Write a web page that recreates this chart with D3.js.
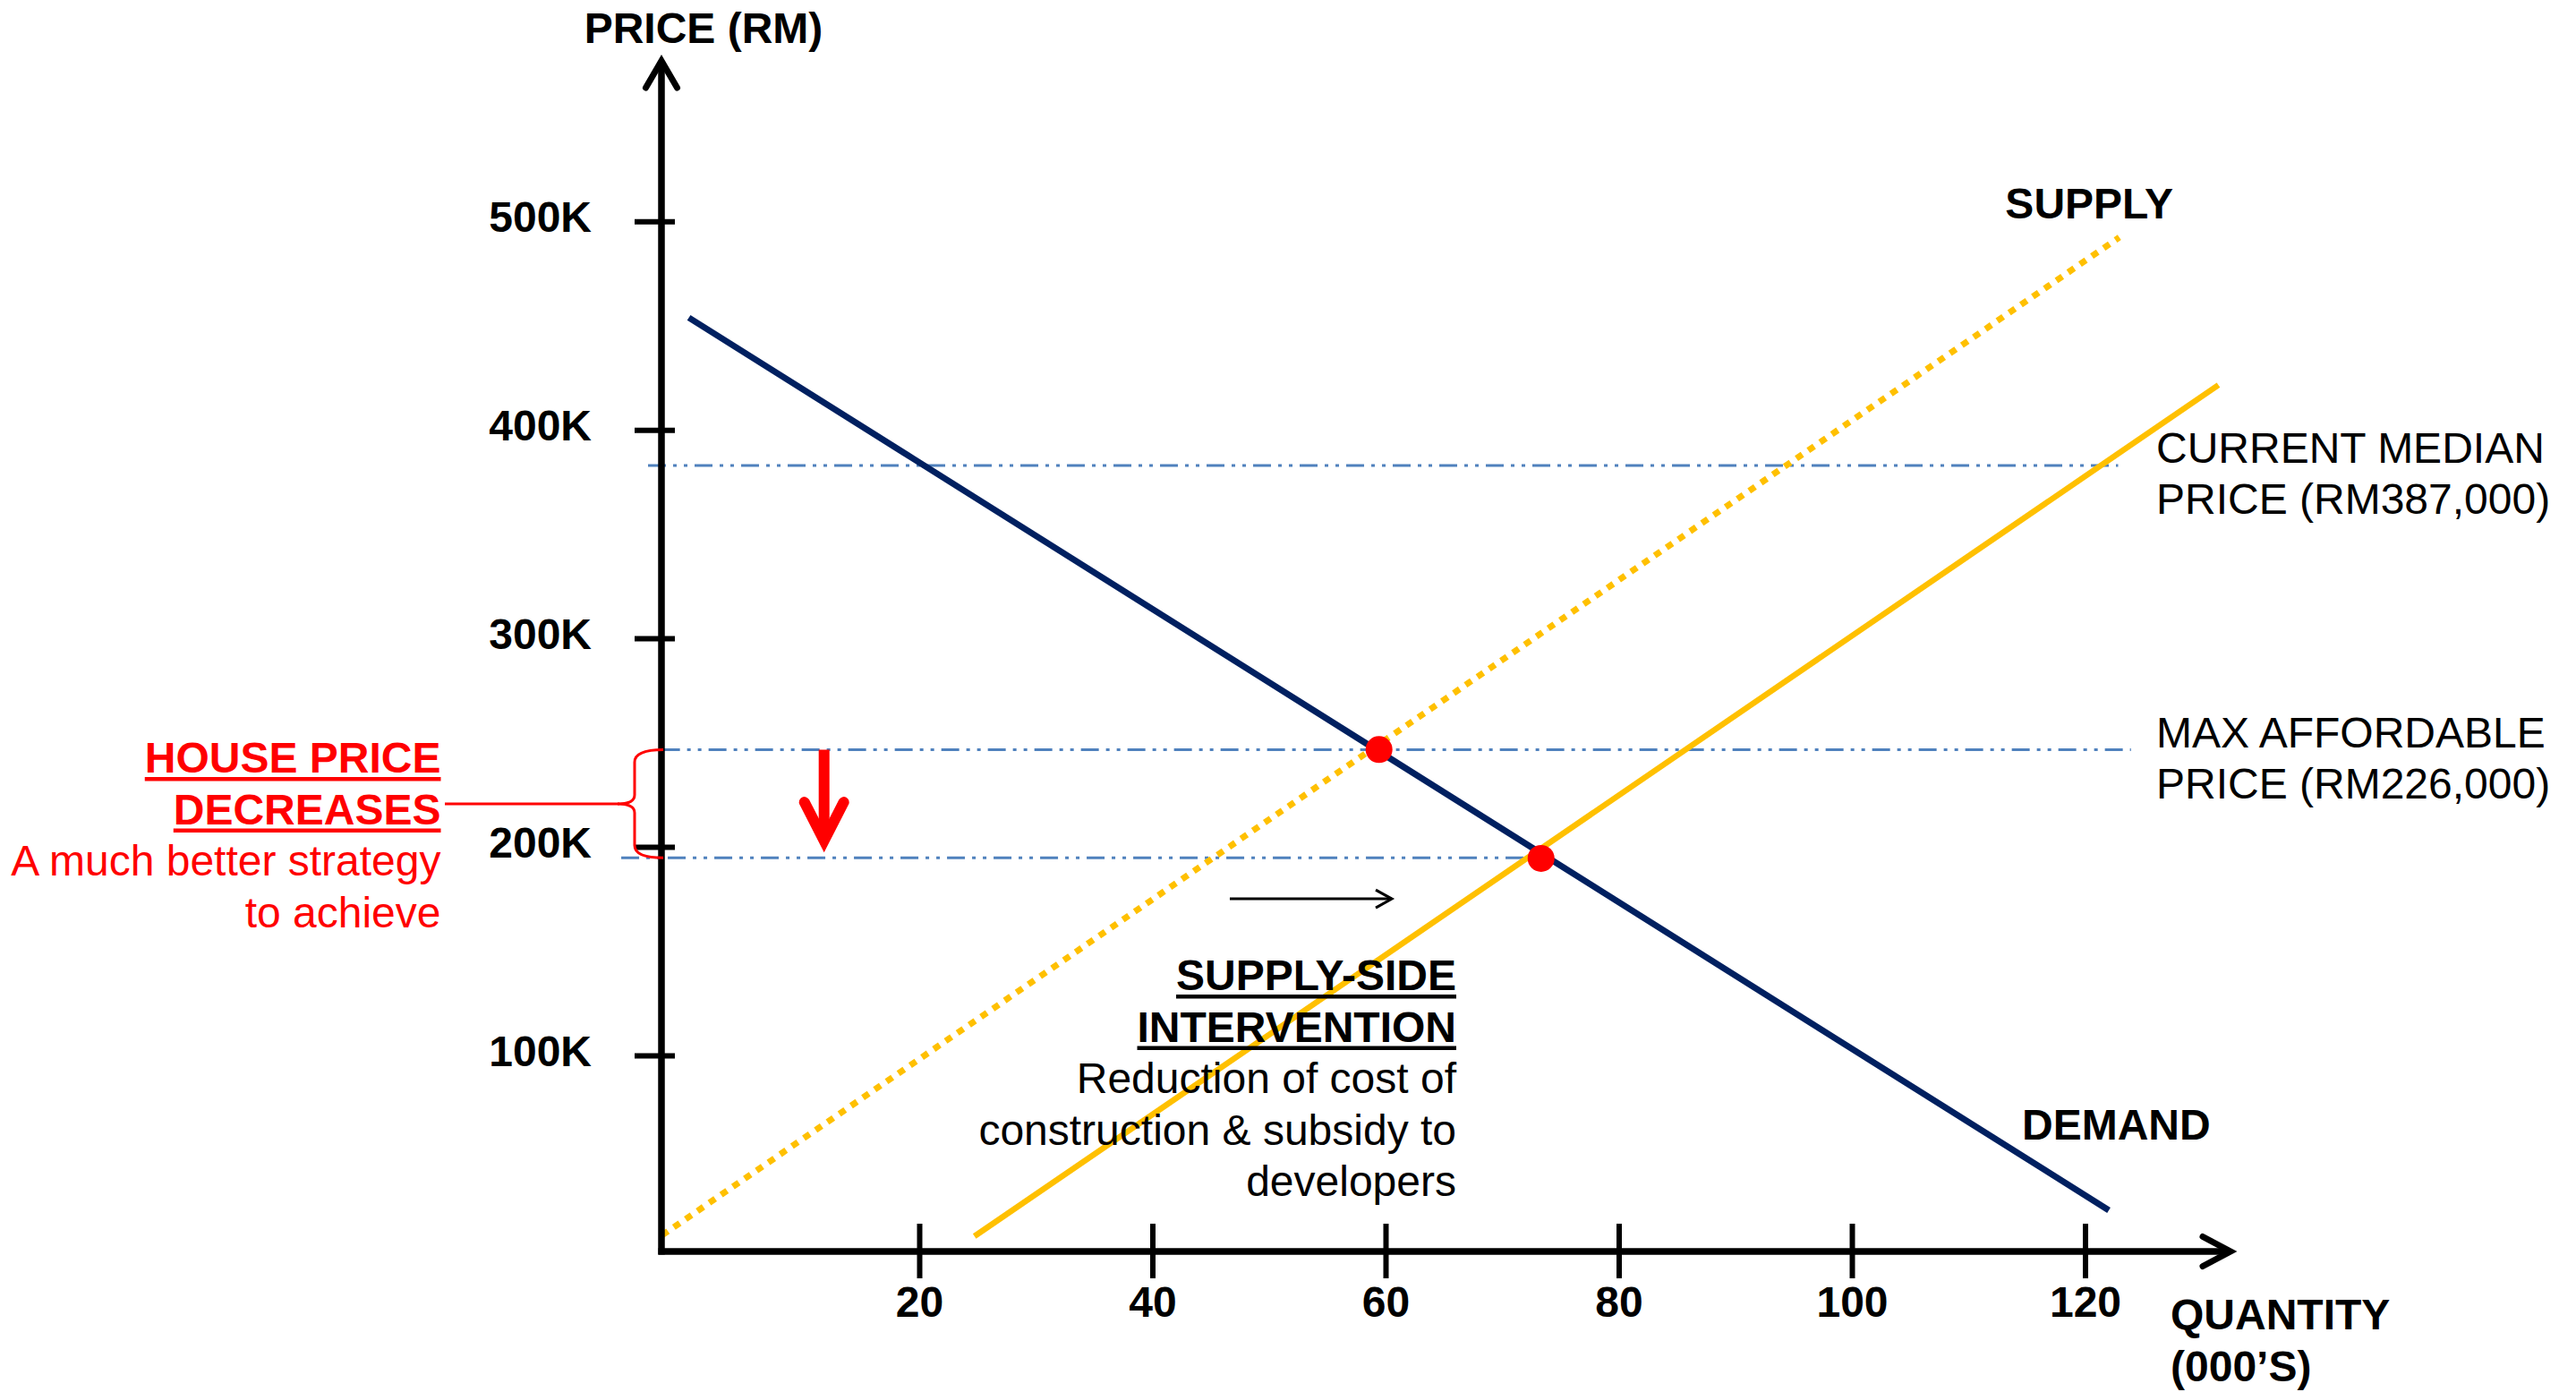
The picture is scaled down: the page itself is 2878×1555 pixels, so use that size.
<!DOCTYPE html>
<html>
<head>
<meta charset="utf-8">
<script src="https://cdn.jsdelivr.net/npm/d3@7"></script>
<style>
  html, body { margin: 0; padding: 0; background: #ffffff; }
  svg { display: block; }
  text { font-family: "Liberation Sans", Arial, Helvetica, sans-serif; }
</style>
</head>
<body>
<svg id="chart" width="2878" height="1555"></svg>
<script>
// ---------------- DATA ----------------
const xTicks = [20, 40, 60, 80, 100, 120];
const xTickLabels = ["20", "40", "60", "80", "100", "120"];
const yTicks = [100, 200, 300, 400, 500];
const yTickLabels = ["100K", "200K", "300K", "400K", "500K"];

// curves: quantity (000's) and price (RM '000)
const demandQty = [0.2, 122.0];
const demandPrice = [454, 26];
const supplyOldQty = [-2.1, 122.9];      // original supply (dotted)
const supplyOldPrice = [14, 492.5];
const supplyNewQty = [24.7, 131.4];      // shifted supply (solid)
const supplyNewPrice = [13.5, 421.7];

// equilibrium points
const eqQty = [59.4, 73.3];
const eqPrice = [246.9, 194.7];

// horizontal reference lines
const refPrice = [383.1, 246.8, 195.0];
const refFromQty = [-3.3, -2.1, -5.6];
const refToQty = [122.8, 123.9, 73.3];
const refLabelLines = [
  ["CURRENT MEDIAN", "PRICE (RM387,000)"],
  ["MAX AFFORDABLE", "PRICE (RM226,000)"],
  []
];

// annotations
const houseTitle = ["HOUSE PRICE", "DECREASES"];
const houseBody = ["A much better strategy", "to achieve"];
const supplyTitle = ["SUPPLY-SIDE", "INTERVENTION"];
const supplyBody = ["Reduction of cost of", "construction & subsidy to", "developers"];
const priceDropQty = 11.8;               // red arrow
const priceDropFrom = 246.8;
const priceDropTo = 201.5;
const shiftQty = [46.6, 60.5];           // black shift arrow
const shiftPrice = 175.3;

// ---------------- SCALES ----------------
const x = d3.scaleLinear().domain([0, 120]).range([767, 2330]);
const y = d3.scaleLinear().domain([0, 500]).range([1412.5, 247.7]);

const svg = d3.select("#chart");
svg.append("rect").attr("width", 2878).attr("height", 1555).attr("fill", "#ffffff");

const originX = 739, originY = 1398;
const NAVY = "#002060", GOLD = "#FFC000", RED = "#FF0000", BLUE = "#4F81BD";
const FS = 48;

// ---------------- REFERENCE LINES ----------------
const gRef = svg.append("g");
refPrice.forEach((p, i) => {
  gRef.append("line")
    .attr("x1", x(refFromQty[i])).attr("x2", x(refToQty[i]))
    .attr("y1", y(p)).attr("y2", y(p))
    .attr("stroke", BLUE).attr("stroke-width", 3)
    .attr("stroke-dasharray", "20,8,4,8,4,8");
});

// ---------------- CURVES ----------------
const line = d3.line().x(d => x(d[0])).y(d => y(d[1]));
svg.append("path")
  .attr("d", line(d3.zip(supplyOldQty, supplyOldPrice)))
  .attr("fill", "none").attr("stroke", GOLD).attr("stroke-width", 7)
  .attr("stroke-dasharray", "8,8");
svg.append("path")
  .attr("d", line(d3.zip(supplyNewQty, supplyNewPrice)))
  .attr("fill", "none").attr("stroke", GOLD).attr("stroke-width", 6.5);
svg.append("path")
  .attr("d", line(d3.zip(demandQty, demandPrice)))
  .attr("fill", "none").attr("stroke", NAVY).attr("stroke-width", 7);

// ---------------- AXES ----------------
const gAx = svg.append("g").attr("stroke", "#000").attr("fill", "none");
gAx.append("line").attr("x1", originX).attr("x2", originX)
  .attr("y1", originY + 3.5).attr("y2", 70).attr("stroke-width", 7.5);
gAx.append("polyline").attr("points", `${originX-17.5},98 ${originX},68 ${originX+17.5},98`)
  .attr("stroke-width", 7).attr("stroke-linecap", "round");
gAx.append("line").attr("x1", originX - 3.5).attr("x2", 2490)
  .attr("y1", originY).attr("y2", originY).attr("stroke-width", 7.5);
gAx.append("polyline").attr("points", `2461,${originY-16.5} 2492,${originY} 2461,${originY+16.5}`)
  .attr("stroke-width", 7).attr("stroke-linecap", "round");

// y ticks
yTicks.forEach((v, i) => {
  gAx.append("line").attr("x1", originX - 30).attr("x2", originX + 15)
    .attr("y1", y(v)).attr("y2", y(v)).attr("stroke-width", 6);
  svg.append("text").attr("x", 661).attr("y", y(v) + 11)
    .attr("text-anchor", "end").attr("font-weight", "bold")
    .attr("font-size", FS).attr("fill", "#000").text(yTickLabels[i]);
});
// x ticks
xTicks.forEach((v, i) => {
  gAx.append("line").attr("x1", x(v)).attr("x2", x(v))
    .attr("y1", originY - 31).attr("y2", originY + 30).attr("stroke-width", 6);
  svg.append("text").attr("x", x(v)).attr("y", 1471)
    .attr("text-anchor", "middle").attr("font-weight", "bold")
    .attr("font-size", FS).attr("fill", "#000").text(xTickLabels[i]);
});

// axis titles
svg.append("text").attr("x", 786).attr("y", 48).attr("text-anchor", "middle")
  .attr("font-weight", "bold").attr("font-size", FS).text("PRICE (RM)");
svg.append("text").attr("x", 2425).attr("y", 1485)
  .attr("font-weight", "bold").attr("font-size", FS).text("QUANTITY");
svg.append("text").attr("x", 2425).attr("y", 1543)
  .attr("font-weight", "bold").attr("font-size", FS).text("(000\u2019S)");

// curve labels
svg.append("text").attr("x", 2428).attr("y", 244).attr("text-anchor", "end")
  .attr("font-weight", "bold").attr("font-size", FS).text("SUPPLY");
svg.append("text").attr("x", 2259).attr("y", 1273)
  .attr("font-weight", "bold").attr("font-size", FS).text("DEMAND");

// reference labels
refLabelLines.forEach((lines, i) => {
  lines.forEach((t, j) => {
    svg.append("text").attr("x", 2409).attr("y", y(refPrice[i]) - 3 + j * 57)
      .attr("font-size", FS).attr("fill", "#000").text(t);
  });
});

// ---------------- EQUILIBRIUM DOTS ----------------
svg.selectAll("circle.eq").data(d3.zip(eqQty, eqPrice)).join("circle")
  .attr("class", "eq").attr("cx", d => x(d[0])).attr("cy", d => y(d[1]))
  .attr("r", 15).attr("fill", RED);

// ---------------- ANNOTATIONS ----------------
function textBlock(lines, xr, y0, opts) {
  lines.forEach((t, j) => {
    const el = svg.append("text").attr("x", xr).attr("y", y0 + j * 57.5)
      .attr("text-anchor", "end").attr("font-size", FS)
      .attr("fill", opts.color).attr("font-weight", opts.bold ? "bold" : "normal")
      .text(t);
    if (opts.underline) {
      const bb = el.node().getBBox();
      svg.append("rect").attr("x", bb.x).attr("y", y0 + j * 57.5 + 5)
        .attr("width", bb.width).attr("height", 4.5).attr("fill", opts.color);
    }
  });
}
textBlock(houseTitle, 492.5, 863, { color: RED, bold: true, underline: true });
textBlock(houseBody, 492.5, 978, { color: RED, bold: false, underline: false });
textBlock(supplyTitle, 1627, 1106, { color: "#000", bold: true, underline: true });
textBlock(supplyBody, 1627, 1221, { color: "#000", bold: false, underline: false });

// red brace between the two price levels
const bTop = y(refPrice[1]), bBot = y(refPrice[2]), bMid = (bTop + bBot) / 2;
const bx = 709, bEnd = 741;
const brace = d3.path();
brace.moveTo(bEnd, bTop);
brace.quadraticCurveTo(bx, bTop, bx, bTop + 14);
brace.lineTo(bx, bMid - 10);
brace.quadraticCurveTo(bx, bMid, 690, bMid);
brace.quadraticCurveTo(bx, bMid, bx, bMid + 10);
brace.lineTo(bx, bBot - 14);
brace.quadraticCurveTo(bx, bBot, bEnd, bBot);
svg.append("path").attr("d", brace.toString()).attr("fill", "none")
  .attr("stroke", RED).attr("stroke-width", 3);
svg.append("line").attr("x1", 497).attr("x2", 692).attr("y1", bMid).attr("y2", bMid)
  .attr("stroke", RED).attr("stroke-width", 3);

// red downward arrow
const ax = x(priceDropQty), ay1 = y(priceDropFrom), ay2 = y(priceDropTo);
svg.append("line").attr("x1", ax).attr("x2", ax).attr("y1", ay1).attr("y2", ay2 - 6)
  .attr("stroke", RED).attr("stroke-width", 12);
svg.append("polyline").attr("points", `${ax-22},${ay2-47} ${ax},${ay2-4} ${ax+22},${ay2-47}`)
  .attr("fill", "none").attr("stroke", RED).attr("stroke-width", 12)
  .attr("stroke-linecap", "round").attr("stroke-linejoin", "miter");

// black shift arrow
const sx1 = x(shiftQty[0]), sx2 = x(shiftQty[1]), sy = y(shiftPrice);
svg.append("line").attr("x1", sx1).attr("x2", sx2).attr("y1", sy).attr("y2", sy)
  .attr("stroke", "#000").attr("stroke-width", 3);
svg.append("polyline").attr("points", `${sx2-18},${sy-10} ${sx2},${sy} ${sx2-18},${sy+10}`)
  .attr("fill", "none").attr("stroke", "#000").attr("stroke-width", 3);
</script>
</body>
</html>
